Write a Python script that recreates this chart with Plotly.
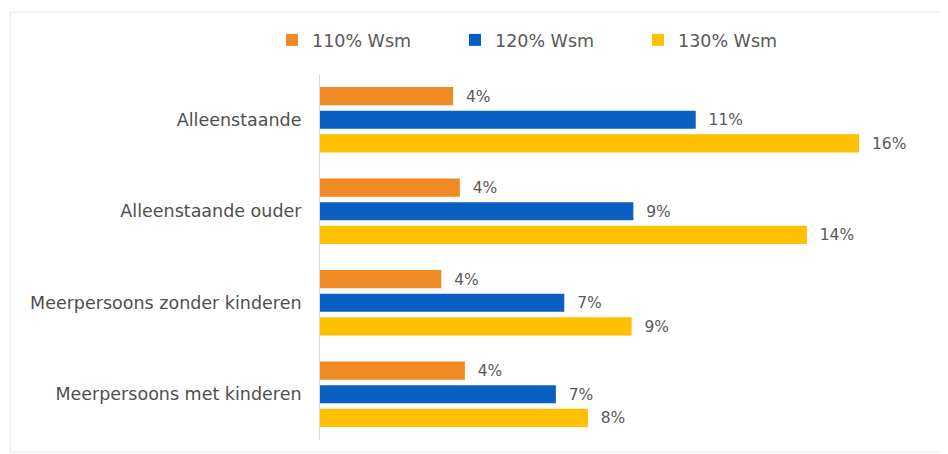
import plotly.graph_objects as go

categories = ["Alleenstaande", "Alleenstaande ouder", "Meerpersoons zonder kinderen", "Meerpersoons met kinderen"]
series_names = ["110% Wsm", "120% Wsm", "130% Wsm"]
wsm110 = [3.95, 4.15, 3.6, 4.3]
wsm120 = [11.15, 9.3, 7.25, 7.0]
wsm130 = [16.0, 14.45, 9.25, 7.95]
colors = ["#F08A24", "#0B5EC2", "#FFC000"]

FONT = "DejaVu Sans, Verdana, sans-serif"

fig = go.Figure()
for name, vals, col in zip(series_names, [wsm110, wsm120, wsm130], colors):
    fig.add_trace(go.Bar(
        y=categories, x=vals, name=name, orientation="h",
        marker=dict(color=col, line=dict(width=0)),
        texttemplate="  %{x:.0f}%", textposition="outside",
        textfont=dict(family=FONT, size=17, color="#595959"),
        cliponaxis=False,
    ))

fig.update_layout(
    width=940, height=446,
    margin=dict(l=312, r=8, t=66, b=14, autoexpand=False),
    paper_bgcolor="white", plot_bgcolor="white",
    barmode="group", bargap=0.225, bargroupgap=0.23,
    font=dict(family=FONT, size=17, color="#595959"),
    legend=dict(orientation="h", xref="container", yref="container",
                x=264 / 940, xanchor="left", y=1 - 32 / 446, yanchor="middle",
                font=dict(family=FONT, size=17.5, color="#595959"),
                entrywidth=138, entrywidthmode="pixels",
                bgcolor="rgba(0,0,0,0)", traceorder="normal"),
    xaxis=dict(range=[0, 18.4], showgrid=False, zeroline=False, showticklabels=False,
               showline=False),
    yaxis=dict(autorange="reversed", showgrid=False, showline=True, linecolor="#d9d9d9",
               linewidth=1, ticks="", ticklabelstandoff=14, automargin=False,
               tickfont=dict(family=FONT, size=17.5, color="#4f4f4f")),
    shapes=[dict(type="rect", xref="paper", yref="paper", x0=-0.5, x1=1.006, y0=-0.033, y1=1.169,
                 line=dict(color="#e6e6e6", width=1), layer="below")],
)
fig.write_html("out.html")
